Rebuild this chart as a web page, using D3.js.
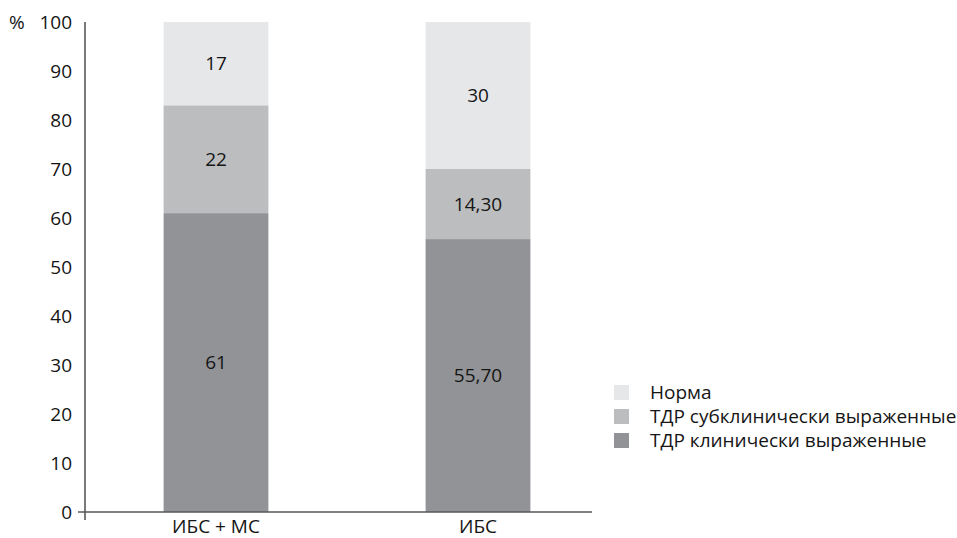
<!DOCTYPE html>
<html>
<head>
<meta charset="utf-8">
<script src="https://cdn.jsdelivr.net/npm/d3@7"></script>
<style>
  html, body { margin: 0; padding: 0; background: #fff; }
  svg { display: block; font-family: "Open Sans", sans-serif; }
</style>
</head>
<body>
<svg id="chart" width="957" height="538"></svg>
<script>
// Groups along the x axis
const categories = ["ИБС + МС", "ИБС"];
// Stacked segments, bottom to top
const seriesNames = ["ТДР клинически выраженные", "ТДР субклинически выраженные", "Норма"];
const clinical = [61, 55.7];
const subclinical = [22, 14.3];
const normal = [17, 30];
// Printed labels for each segment
const clinicalLabels = ["61", "55,70"];
const subclinicalLabels = ["22", "14,30"];
const normalLabels = ["17", "30"];
const yTicks = [0, 10, 20, 30, 40, 50, 60, 70, 80, 90, 100];
const colors = ["#929396", "#bcbdbf", "#e6e7e8"];

const svg = d3.select("#chart");
const fontSize = 19;
const textColor = "#151515";

const x0 = 85, yZero = 512, yTop = 22;
const y = d3.scaleLinear().domain([0, 100]).range([yZero, yTop]);
const x = d3.scaleBand().domain(categories).range([85, 609]).paddingInner(0.6).paddingOuter(0.3);

const rows = categories.map((c, i) => ({
  cat: c,
  values: [clinical[i], subclinical[i], normal[i]],
  labels: [clinicalLabels[i], subclinicalLabels[i], normalLabels[i]]
}));

// bars
rows.forEach(r => {
  let base = 0;
  r.values.forEach((v, k) => {
    const y1 = y(base + v), y0 = y(base);
    svg.append("rect")
      .attr("x", x(r.cat))
      .attr("y", y1)
      .attr("width", x.bandwidth())
      .attr("height", y0 - y1)
      .attr("fill", colors[k]);
    svg.append("text")
      .attr("x", x(r.cat) + x.bandwidth() / 2)
      .attr("y", (y0 + y1) / 2)
      .attr("dy", "0.35em")
      .attr("text-anchor", "middle")
      .attr("font-size", fontSize)
      .attr("fill", textColor)
      .text(r.labels[k]);
    base += v;
  });
});

// y axis
const yAxis = d3.axisLeft(y).tickValues(yTicks).tickSize(0).tickPadding(13);
const gy = svg.append("g").attr("transform", `translate(${x0},0)`).call(yAxis);
gy.select(".domain").remove();
gy.selectAll("text").attr("font-size", fontSize).attr("font-family", "Open Sans").attr("fill", textColor);
svg.append("line").attr("x1", x0).attr("x2", x0).attr("y1", yTop).attr("y2", 520)
  .attr("stroke", "#231f20").attr("stroke-width", 1.2);

// x axis
svg.append("line").attr("x1", 78).attr("x2", 592).attr("y1", yZero).attr("y2", yZero)
  .attr("stroke", "#58595b").attr("stroke-width", 1.5);
const xAxis = d3.axisBottom(x).tickSize(0).tickPadding(8);
const gx = svg.append("g").attr("transform", `translate(0,${yZero})`).call(xAxis);
gx.select(".domain").remove();
gx.selectAll("text").attr("font-size", fontSize).attr("font-family", "Open Sans").attr("fill", textColor);

// unit
svg.append("text").attr("x", 9).attr("y", y(100)).attr("dy", "0.35em")
  .attr("font-size", fontSize).attr("fill", textColor).text("%");

// legend, top to bottom
const legendItems = [2, 1, 0];
const lg = svg.append("g").attr("transform", "translate(614,385)");
legendItems.forEach((k, i) => {
  lg.append("rect").attr("x", 0).attr("y", i * 24).attr("width", 15).attr("height", 15).attr("fill", colors[k]);
  lg.append("text").attr("x", 36).attr("y", i * 24 + 7.5).attr("dy", "0.35em")
    .attr("font-size", fontSize).attr("fill", textColor).text(seriesNames[k]);
});
</script>
</body>
</html>
